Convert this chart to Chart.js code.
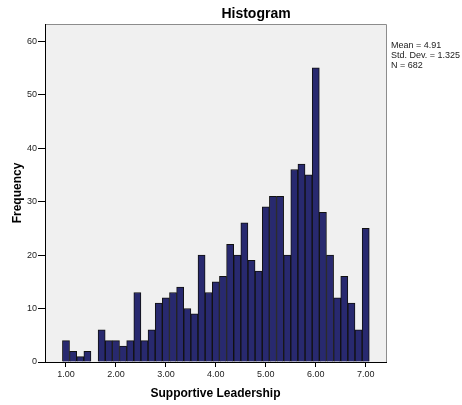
<!DOCTYPE html>
<html>
<head>
<meta charset="utf-8">
<script src="https://cdn.jsdelivr.net/npm/chart.js@4.4.0/dist/chart.umd.min.js"></script>
<style>
  body { margin: 0; background: #fff; }
  #wrap { width: 462px; height: 405px; position: relative; }
</style>
</head>
<body>
<div id="wrap"><canvas id="hist"></canvas></div>
<script>
// bin centres (steps of 1/7) and counts
const binCenters = [1.000, 1.143, 1.286, 1.429, 1.571, 1.714, 1.857,
  2.000, 2.143, 2.286, 2.429, 2.571, 2.714, 2.857,
  3.000, 3.143, 3.286, 3.429, 3.571, 3.714, 3.857,
  4.000, 4.143, 4.286, 4.429, 4.571, 4.714, 4.857,
  5.000, 5.143, 5.286, 5.429, 5.571, 5.714, 5.857,
  6.000, 6.143, 6.286, 6.429, 6.571, 6.714, 6.857, 7.000];
const counts = [4, 2, 1, 2, 0, 6, 4,
  4, 3, 4, 13, 4, 6, 11,
  12, 13, 14, 10, 9, 20, 13,
  15, 16, 22, 20, 26, 19, 17,
  29, 31, 31, 20, 36, 37, 35,
  55, 28, 20, 12, 16, 11, 6, 25];
const xTicks = [1, 2, 3, 4, 5, 6, 7];
const yTicks = [0, 10, 20, 30, 40, 50, 60];
const statsLines = ['Mean = 4.91', 'Std. Dev. = 1.325', 'N = 682'];

const FONT = 'Liberation Sans, Arial, sans-serif';

// grey plot background + frame, title and stats text
const decor = {
  id: 'decor',
  beforeDraw(chart) {
    const { ctx, chartArea: a } = chart;
    ctx.save();
    ctx.fillStyle = '#f0f0f0';
    ctx.fillRect(a.left, a.top, a.right - a.left, a.bottom - a.top);
    ctx.strokeStyle = '#8c8c8c';
    ctx.lineWidth = 1;
    ctx.beginPath();
    ctx.moveTo(a.left, a.top + 0.5);
    ctx.lineTo(a.right + 0.5, a.top + 0.5);
    ctx.lineTo(a.right + 0.5, a.bottom);
    ctx.stroke();
    ctx.restore();
  },
  afterDraw(chart) {
    const { ctx } = chart;
    ctx.save();
    ctx.fillStyle = '#000';
    ctx.font = 'bold 14px ' + FONT;
    ctx.textAlign = 'center';
    ctx.textBaseline = 'middle';
    ctx.fillText('Histogram', 256, 14);
    ctx.font = '9px ' + FONT;
    ctx.textAlign = 'left';
    ctx.fillStyle = '#222';
    statsLines.forEach((t, i) => ctx.fillText(t, 391, 46 + i * 10));
    ctx.restore();
  }
};

new Chart(document.getElementById('hist'), {
  type: 'bar',
  data: {
    datasets: [{
      data: binCenters.map((x, i) => ({ x: x, y: counts[i] })),
      backgroundColor: '#28296f',
      borderColor: '#111',
      borderWidth: 1,
      barPercentage: 1,
      categoryPercentage: 1
    }]
  },
  options: {
    responsive: true,
    maintainAspectRatio: false,
    animation: false,
    layout: { padding: { left: 0, top: 24, right: 76, bottom: 0 } },
    plugins: { legend: { display: false }, tooltip: { enabled: false } },
    scales: {
      x: {
        type: 'linear',
        offset: false,
        min: 0.58,
        max: 7.406,
        afterBuildTicks: s => { s.ticks = xTicks.map(v => ({ value: v })); },
        afterFit: s => { s.height = 43; },
        ticks: {
          callback: v => v.toFixed(2),
          font: { family: FONT, size: 9 },
          color: '#222',
          padding: 2,
          maxRotation: 0
        },
        grid: { display: true, offset: false, drawOnChartArea: false, tickLength: 5, tickColor: '#000' },
        border: { color: '#000' },
        title: {
          display: true,
          text: 'Supportive Leadership',
          font: { family: FONT, size: 12, weight: 'bold' },
          color: '#000',
          padding: { top: 0, bottom: 4 }
        }
      },
      y: {
        min: 0,
        max: 63.2,
        afterBuildTicks: s => { s.ticks = yTicks.map(v => ({ value: v })); },
        afterFit: s => { s.width = 45; },
        ticks: {
          font: { family: FONT, size: 9 },
          color: '#222',
          padding: 1
        },
        grid: { display: true, drawOnChartArea: false, tickLength: 7, tickColor: '#000' },
        border: { color: '#000' },
        title: {
          display: true,
          text: 'Frequency',
          font: { family: FONT, size: 12, weight: 'bold' },
          color: '#000',
          padding: { top: 10, bottom: 0 }
        }
      }
    }
  },
  plugins: [decor]
});
</script>
</body>
</html>
